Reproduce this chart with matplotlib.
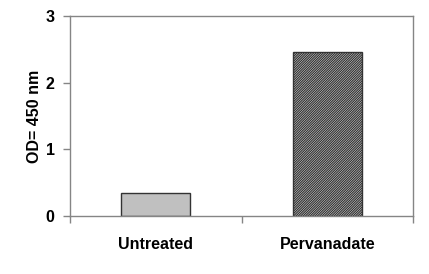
import matplotlib
matplotlib.use("Agg")
import matplotlib.pyplot as plt

categories = ["Untreated", "Pervanadate"]
values = [0.34, 2.46]
yticks = [0, 1, 2, 3]
ylabel = "OD= 450 nm"

plt.rcParams['font.family'] = ['Liberation Sans', 'DejaVu Sans']
plt.rcParams['font.weight'] = 'bold'
plt.rcParams['hatch.linewidth'] = 0.9

fig = plt.figure(figsize=(4.29, 2.74), dpi=100)
ax = fig.add_axes([70/429, 58/274, 343/429, 200/274])

x = list(range(len(categories)))
bars = ax.bar(x, values, width=0.40, color=['#c0c0c0', 'white'],
              edgecolor='#333333', linewidth=1.0)
bars[1].set_hatch('/' * 14)

ax.set_xlim(-0.5, 1.5)
ax.set_ylim(0, 3)
ax.set_yticks(yticks)
ax.set_yticklabels([str(t) for t in yticks], fontsize=11.5, fontweight='bold')
ax.set_xticks([-0.5, 0.5, 1.5])
ax.set_xticklabels([])
ax.set_xticks(x, minor=True)
ax.set_xticklabels(categories, minor=True, fontsize=11.5, fontweight='bold')
ax.tick_params(axis='x', which='minor', length=0, pad=15)
ax.tick_params(axis='x', which='major', length=5, color='#858585', width=1)
ax.tick_params(axis='y', length=5, color='#858585', width=1, pad=6)
ax.set_ylabel(ylabel, fontsize=11.5, fontweight='bold', labelpad=3)

for s in ax.spines.values():
    s.set_color('#858585')
    s.set_linewidth(1.0)

fig.savefig("out.png", dpi=100)
